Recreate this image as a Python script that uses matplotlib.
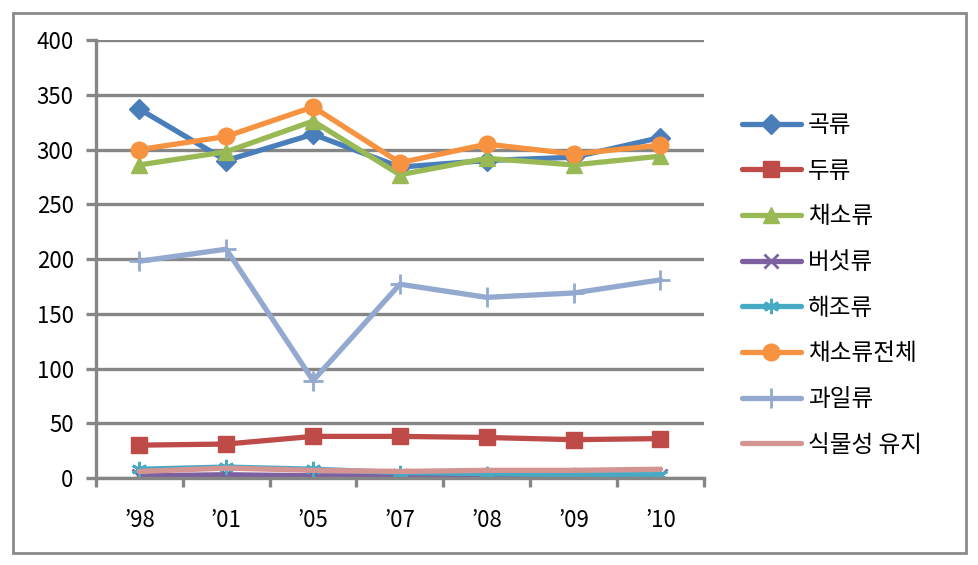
import matplotlib
matplotlib.use("Agg")
import matplotlib.pyplot as plt
from matplotlib.patches import Rectangle
import numpy as np

plt.rcParams['font.family'] = ['Noto Sans CJK KR', 'DejaVu Sans']

years = ['’98', '’01', '’05', '’07', '’08', '’09', '’10']

gokryu = [337, 290, 314, 284, 290, 293, 311]
duryu = [30, 31, 38, 38, 37, 35, 36]
chaesoryu = [286, 298, 326, 277, 292, 286, 294]
beoseot = [2, 3, 2, 2, 1, 1, 2]
haejo = [8, 10, 8, 5, 4, 3, 3]
chaeso_total = [300, 312, 339, 288, 305, 296, 304]
gwail = [198, 209, 89, 177, 165, 169, 181]
sikmul_yuji = [6, 9, 7, 6, 7, 7, 8]

names = ['곡류', '두류', '채소류', '버섯류', '해조류', '채소류전체', '과일류', '식물성 유지']
series = [gokryu, duryu, chaesoryu, beoseot, haejo, chaeso_total, gwail, sikmul_yuji]
colors = ['#4A7EBB', '#BE4B48', '#98B954', '#7D60A0', '#46AAC5', '#F69240', '#93A9CF', '#D49592']
markers = ['D', 's', '^', 'x', (6, 2, 0), 'o', '+', None]
msizes = [10, 11, 11, 10, 11, 12, 14, 0]

fig = plt.figure(figsize=(9.79, 5.65), dpi=100)
ax = fig.add_axes([0.098, 0.154, 0.621, 0.775])

x = np.arange(len(years))
for vals, name, c, m, ms in zip(series, names, colors, markers, msizes):
    ax.plot(x, vals, color=c, lw=3.8, marker=m, markersize=ms,
            markeredgewidth=2 if m in ('x', '+') or isinstance(m, tuple) else 1,
            markeredgecolor=c, markerfacecolor=c, label=name,
            solid_capstyle='round', solid_joinstyle='round')

ax.set_xlim(-0.5, len(years) - 0.5)
ax.set_ylim(0, 400)
ax.set_yticks(np.arange(0, 401, 50))
ax.set_xticks(x)
ax.set_xticklabels(years)
ax.set_xticks(np.arange(-0.5, len(years), 1), minor=True)

gray = '#868686'
ax.grid(axis='y', color=gray, lw=2.4)
ax.set_axisbelow(True)
for s in ['top', 'right']:
    ax.spines[s].set_visible(False)
for s in ['left', 'bottom']:
    ax.spines[s].set_color(gray)
    ax.spines[s].set_linewidth(2.4)

ax.tick_params(axis='y', length=7, width=2.4, color=gray, pad=9, labelsize=16)
ax.tick_params(axis='x', which='major', length=0, pad=22, labelsize=16)
ax.tick_params(axis='x', which='minor', length=6.5, width=2.4, color=gray)

leg = ax.legend(loc='upper left', bbox_to_anchor=(0.748, 0.815),
                bbox_transform=fig.transFigure, frameon=False,
                fontsize=17, handlelength=2.5, handletextpad=0.3,
                labelspacing=0.96, borderaxespad=0)

fig.patches.append(Rectangle((13 / 979, 12 / 565), 953 / 979, 540 / 565,
                             transform=fig.transFigure, fill=False,
                             edgecolor='#8a8a8a', lw=2))

fig.savefig('out.png', dpi=100)
